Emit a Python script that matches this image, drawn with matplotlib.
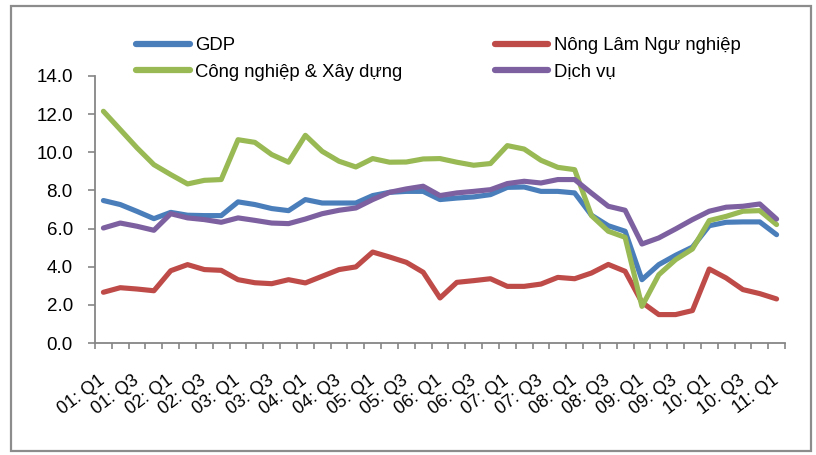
import matplotlib
matplotlib.use("Agg")
import matplotlib.pyplot as plt
from matplotlib.patches import Rectangle

plt.rcParams['font.family'] = ['Liberation Sans', 'DejaVu Sans']

# Quarterly categories, 2001 Q1 .. 2011 Q1
categories = [
    "01: Q1", "01: Q2", "01: Q3", "01: Q4",
    "02: Q1", "02: Q2", "02: Q3", "02: Q4",
    "03: Q1", "03: Q2", "03: Q3", "03: Q4",
    "04: Q1", "04: Q2", "04: Q3", "04: Q4",
    "05: Q1", "05: Q2", "05: Q3", "05: Q4",
    "06: Q1", "06: Q2", "06: Q3", "06: Q4",
    "07: Q1", "07: Q2", "07: Q3", "07: Q4",
    "08: Q1", "08: Q2", "08: Q3", "08: Q4",
    "09: Q1", "09: Q2", "09: Q3", "09: Q4",
    "10: Q1", "10: Q2", "10: Q3", "10: Q4",
    "11: Q1",
]

gdp = [7.47, 7.26, 6.90, 6.52, 6.85, 6.70, 6.68, 6.68, 7.40, 7.26,
       7.05, 6.94, 7.52, 7.34, 7.34, 7.34, 7.73, 7.90, 7.95, 7.95,
       7.52, 7.60, 7.66, 7.78, 8.16, 8.18, 7.95, 7.95, 7.87, 6.70,
       6.15, 5.86, 3.32, 4.11, 4.60, 5.03, 6.15, 6.33, 6.35, 6.35,
       5.68]

nong_lam = [2.66, 2.90, 2.83, 2.74, 3.79, 4.11, 3.85, 3.81, 3.32, 3.16,
            3.11, 3.32, 3.15, 3.50, 3.85, 3.99, 4.77, 4.51, 4.23, 3.71,
            2.36, 3.18, 3.27, 3.37, 2.97, 2.97, 3.09, 3.44, 3.37, 3.67,
            4.12, 3.76, 2.13, 1.49, 1.49, 1.70, 3.88, 3.41, 2.80, 2.59,
            2.31]

cong_nghiep = [12.15, 11.19, 10.23, 9.35, 8.83, 8.34, 8.53, 8.57, 10.66, 10.52,
               9.88, 9.48, 10.89, 10.05, 9.53, 9.23, 9.67, 9.48, 9.49, 9.65,
               9.67, 9.48, 9.32, 9.41, 10.35, 10.17, 9.58, 9.21, 9.09, 6.68,
               5.86, 5.54, 1.92, 3.58, 4.37, 4.93, 6.42, 6.64, 6.91, 6.94,
               6.21]

dich_vu = [6.03, 6.29, 6.12, 5.91, 6.78, 6.56, 6.47, 6.33, 6.56, 6.43,
           6.29, 6.26, 6.50, 6.78, 6.96, 7.08, 7.52, 7.90, 8.08, 8.22,
           7.73, 7.87, 7.95, 8.04, 8.36, 8.48, 8.39, 8.57, 8.57, 7.86,
           7.17, 6.96, 5.19, 5.51, 5.98, 6.47, 6.91, 7.12, 7.17, 7.29,
           6.50]

series_names = ["GDP", "Nông Lâm Ngư nghiệp", "Công nghiệp & Xây dựng", "Dịch vụ"]
series_colors = ["#4A7EBB", "#BE4B48", "#98B954", "#7D60A0"]
yticks = [0.0, 2.0, 4.0, 6.0, 8.0, 10.0, 12.0, 14.0]

W, H, DPI = 816, 455, 100
fig = plt.figure(figsize=(W / DPI, H / DPI), dpi=DPI)
fig.patch.set_facecolor("white")

# outer chart frame
fig.add_artist(Rectangle((11 / W, 1 - 451 / H), 800 / W, 445 / H,
                         transform=fig.transFigure, fill=False,
                         edgecolor="#8c8c8c", linewidth=1.6))

ax = fig.add_axes([95 / W, 1 - 343 / H, 690 / W, 267 / H])
x = list(range(len(categories)))

handles = []
for vals, name, col in zip([gdp, nong_lam, cong_nghiep, dich_vu], series_names, series_colors):
    h, = ax.plot(x, vals, color=col, linewidth=3.7, label=name,
                 solid_joinstyle="round", solid_capstyle="round")
    handles.append(h)

ax.set_xlim(-0.5, len(categories) - 0.5)
ax.set_ylim(0, 14)

for s in ("top", "right"):
    ax.spines[s].set_visible(False)
for s in ("left", "bottom"):
    ax.spines[s].set_color("#868686")
    ax.spines[s].set_linewidth(1.3)

ax.set_yticks(yticks)
ax.set_yticklabels([f"{v:.1f}" for v in yticks])
ax.tick_params(axis="y", direction="out", length=5, width=1.2, color="#868686",
               pad=11, labelsize=13.5, labelcolor="black")

# category boundary ticks on the x axis
ax.set_xticks([i - 0.5 for i in range(len(categories) + 1)])
ax.set_xticklabels([])
ax.tick_params(axis="x", which="major", direction="out", length=4.5, width=1.2,
               color="#868686")

# every second category is labelled
label_pos = x[::2]
ax.set_xticks(label_pos, minor=True)
ax.set_xticklabels(categories[::2], minor=True, rotation=37, ha="right",
                   va="center", rotation_mode="anchor", fontsize=13)
ax.tick_params(axis="x", which="minor", length=0, pad=26)

# legend laid out row by row: GDP | Nông Lâm, then Công nghiệp | Dịch vụ
leg_order = [0, 2, 1, 3]
leg = fig.legend(handles=[handles[i] for i in leg_order], loc="upper left",
                 bbox_to_anchor=(136 / W, 1 - 37 / H), ncol=2,
                 frameon=False, fontsize=13.3, handlelength=2.9,
                 handletextpad=0.3, columnspacing=5.0, labelspacing=0.52,
                 borderpad=0, borderaxespad=0)
for line in leg.get_lines():
    line.set_linewidth(4.5)
    line.set_solid_capstyle("round")

fig.savefig("out.png", dpi=DPI)
